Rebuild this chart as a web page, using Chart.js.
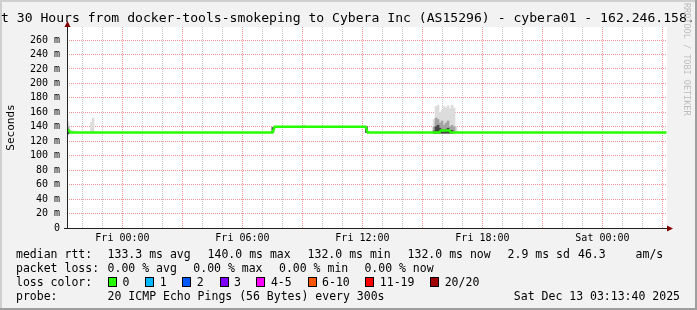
<!DOCTYPE html>
<html>
<head>
<meta charset="utf-8">
<title>Smokeping - cybera01</title>
<script src="https://cdn.jsdelivr.net/npm/chart.js@4.4.1/dist/chart.umd.min.js"></script>
<style>
  html, body { margin: 0; padding: 0; background: #f2f2f2; }
  #wrap { width: 697px; height: 310px; }
</style>
</head>
<body>
<div id="wrap"><canvas id="smokeChart" width="697" height="310"></canvas></div>
<script>
// time axis is in hours, 0 = Fri 00:00
var startHour = -2.7722;   // Thu 21:13:40
var endHour = 27.2278;     // Sat 03:13:40
var labelHours = [0, 6, 12, 18, 24];
var xLabels = ['Fri 00:00', 'Fri 06:00', 'Fri 12:00', 'Fri 18:00', 'Sat 00:00'];

// median rtt (ms)
var medianHours = [-2.77, -2.68, -2.6, 7.5, 7.62, 12.15, 12.27, 15.85, 15.92, 16.35, 16.42, 27.2];
var medianMs    = [135, 135, 132, 132, 140, 140, 132, 132, 135, 135, 132, 132];

// smoke (spread of the 20 pings), light / mid / dark shades
var lightHours = [-2.72, -2.62, -2.52, -2.42, -2.32, -1.55, -1.47, 9.1, 13.5,
                  15.58, 15.68, 15.78, 15.88, 15.98, 16.08, 16.18, 16.28, 16.38, 16.48, 16.58, 16.68];
var lightLow   = [132, 132, 132, 132, 132, 132, 132, 140, 132,
                  132, 132, 132, 132, 132, 132, 132, 132, 132, 132, 132, 132];
var lightHigh  = [147, 136, 135, 134, 134, 146, 152, 142.5, 133.5,
                  150, 168, 170, 160, 163, 168, 166, 169, 165, 170, 166, 140];

var midHours = [-2.72, 15.58, 15.68, 15.78, 15.88, 15.98, 16.08, 16.18, 16.28, 16.38, 16.48, 16.58];
var midLow   = [131, 132, 132, 132, 132, 132, 132, 132, 132, 132, 132, 132];
var midHigh  = [140, 140, 152, 150, 145, 148, 142, 145, 148, 140, 142, 140];

var darkHours = [-2.72, 7.52, 12.2, 15.58, 15.68, 15.78, 15.88, 15.98, 16.08, 16.18, 16.28, 16.38, 16.48];
var darkLow   = [130, 132, 132, 131, 131, 131, 131, 131, 131, 131, 131, 131, 131];
var darkHigh  = [136, 139, 140, 134, 140, 142, 138, 136, 135, 136, 138, 135, 135];

// legend texts
var rttStats = ['133.3 ms avg', '140.0 ms max', '132.0 ms min', '132.0 ms now', '2.9 ms sd'];
var amsValue = '46.3';
var lossStats = ['0.00 % avg', '0.00 % max', '0.00 % min', '0.00 % now'];
var lossLabels = ['0', '1', '2', '3', '4-5', '6-10', '11-19', '20/20'];
var lossColors = ['#26ff00', '#00b8ff', '#0059ff', '#7e00ff', '#ff00ff', '#ff5500', '#ff0000', '#a00000'];
var probeText = '20 ICMP Echo Pings (56 Bytes) every 300s';
var stampText = 'Sat Dec 13 03:13:40 2025';
var titleText = 't 30 Hours from docker-tools-smokeping to Cybera Inc (AS15296) - cybera01 - 162.246.158.';

var MONO = "'DejaVu Sans Mono', monospace";
var GRID = 'rgba(143,143,143,0.55)';
var MGRID = 'rgba(222,79,79,0.6)';

function toPoints(xs, ys) {
    return xs.map(function (x, i) { return { x: x, y: ys[i] }; });
}
function toBars(xs, lo, hi) {
    return xs.map(function (x, i) { return { x: x, y: [lo[i], hi[i]] }; });
}

// background, frame, arrows and all the rrdtool style texts
var rrdDecor = {
    id: 'rrdDecor',
    beforeDraw: function (chart) {
        var ctx = chart.ctx, a = chart.chartArea;
        ctx.save();
        ctx.fillStyle = '#f2f2f2';
        ctx.fillRect(0, 0, chart.width, chart.height);
        ctx.fillStyle = '#cfcfcf';
        ctx.fillRect(0, 0, chart.width, 2);
        ctx.fillRect(0, 0, 2, chart.height);
        ctx.fillStyle = '#9e9e9e';
        ctx.fillRect(0, chart.height - 2, chart.width, 2);
        ctx.fillRect(chart.width - 2, 0, 2, chart.height);
        ctx.fillStyle = '#ffffff';
        ctx.fillRect(a.left, a.top, a.right - a.left, a.bottom - a.top);
        ctx.restore();
    },
    afterDraw: function (chart) {
        var ctx = chart.ctx, a = chart.chartArea;
        var ax = Math.round(a.left) + 0.5, ay = Math.round(a.bottom) + 0.5;
        ctx.save();
        // axes
        ctx.strokeStyle = '#212121';
        ctx.lineWidth = 1;
        ctx.beginPath();
        ctx.moveTo(ax, ay); ctx.lineTo(ax, 26);
        ctx.moveTo(64, ay); ctx.lineTo(668, ay);
        ctx.stroke();
        ctx.fillStyle = '#800000';
        ctx.beginPath();
        ctx.moveTo(ax - 3, 27); ctx.lineTo(ax, 21); ctx.lineTo(ax + 3, 27); ctx.closePath();
        ctx.fill();
        ctx.beginPath();
        ctx.moveTo(667, ay - 3); ctx.lineTo(673, ay); ctx.lineTo(667, ay + 3); ctx.closePath();
        ctx.fill();

        // title
        ctx.fillStyle = '#000';
        ctx.textBaseline = 'alphabetic';
        ctx.textAlign = 'left';
        ctx.font = '13.1px ' + MONO;
        ctx.fillText(titleText, 1, 22);

        // unit label
        ctx.save();
        ctx.translate(14, (a.top + a.bottom) / 2);
        ctx.rotate(-Math.PI / 2);
        ctx.textAlign = 'center';
        ctx.font = '11px ' + MONO;
        ctx.fillText('Seconds', 0, 0);
        ctx.restore();

        // watermark
        ctx.save();
        ctx.translate(684, 3);
        ctx.rotate(Math.PI / 2);
        ctx.textAlign = 'left';
        ctx.fillStyle = '#bdbdbd';
        ctx.font = '8.5px ' + MONO;
        ctx.fillText('RRDTOOL / TOBI OETIKER', 0, 0);
        ctx.restore();

        // legend block
        ctx.font = '11.5px ' + MONO;
        ctx.fillStyle = '#000';
        var cols = [107.6, 207.6, 307.6, 407.6, 507.6];
        ctx.fillText('median rtt:', 16, 258);
        rttStats.forEach(function (s, i) { ctx.fillText(s, cols[i], 258); });
        ctx.fillText(amsValue, 578, 258);
        ctx.fillText('am/s', 635.6, 258);

        var lossCols = [107.6, 193.3, 279, 364.4];
        ctx.fillText('packet loss:', 16, 272);
        lossStats.forEach(function (s, i) { ctx.fillText(s, lossCols[i], 272); });

        var boxX = [108, 145.3, 182.2, 219.6, 256.4, 307.6, 365.3, 430.2];
        ctx.fillText('loss color:', 16, 286);
        lossLabels.forEach(function (s, i) {
            ctx.fillStyle = lossColors[i];
            ctx.fillRect(Math.round(boxX[i]), 277, 9, 10);
            ctx.strokeStyle = '#000';
            ctx.strokeRect(Math.round(boxX[i]) + 0.5, 277.5, 8, 9);
            ctx.fillStyle = '#000';
            ctx.fillText(s, boxX[i] + 14.5, 286);
        });

        ctx.fillText('probe:', 16, 300);
        ctx.fillText(probeText, 107.6, 300);
        ctx.textAlign = 'right';
        ctx.fillText(stampText, 680, 300);
        ctx.restore();
    }
};

var ctx = document.getElementById('smokeChart').getContext('2d');
var smokeChart = new Chart(ctx, {
    data: {
        datasets: [
            {
                type: 'line',
                label: 'median rtt',
                data: toPoints(medianHours, medianMs),
                borderColor: lossColors[0],
                borderWidth: 2.5,
                pointRadius: 0,
                tension: 0,
                order: 0
            },
            {
                type: 'bar',
                label: 'smoke dark',
                data: toBars(darkHours, darkLow, darkHigh),
                backgroundColor: '#454545',
                barThickness: 2,
                grouped: false,
                order: 1
            },
            {
                type: 'bar',
                label: 'smoke mid',
                data: toBars(midHours, midLow, midHigh),
                backgroundColor: '#a3a3a3',
                barThickness: 2,
                grouped: false,
                order: 2
            },
            {
                type: 'bar',
                label: 'smoke light',
                data: toBars(lightHours, lightLow, lightHigh),
                backgroundColor: '#dcdcdc',
                barThickness: 2,
                grouped: false,
                order: 3
            }
        ]
    },
    options: {
        responsive: false,
        animation: false,
        layout: { padding: { left: 0, right: 30, top: 27, bottom: 62 } },
        plugins: {
            legend: { display: false },
            tooltip: { enabled: false },
            title: { display: false }
        },
        scales: {
            x: {
                type: 'linear',
                offset: false,
                min: startHour,
                max: endHour,
                afterBuildTicks: function (scale) {
                    var t = [];
                    for (var h = -2; h <= 27; h++) t.push({ value: h });
                    scale.ticks = t;
                },
                afterFit: function (scale) { scale.height = 20; },
                ticks: {
                    autoSkip: false,
                    maxRotation: 0,
                    padding: 4,
                    color: '#000',
                    font: { family: MONO, size: 10 },
                    callback: function (v) {
                        var i = labelHours.indexOf(v);
                        return i >= 0 ? xLabels[i] : '';
                    }
                },
                grid: {
                    offset: false,
                    drawTicks: false,
                    lineWidth: 1,
                    color: function (c) { return c.tick && c.tick.value % 3 === 0 ? MGRID : GRID; }
                },
                border: { display: false, dash: [1, 1] }
            },
            y: {
                type: 'linear',
                min: 0,
                max: 278,
                afterBuildTicks: function (scale) {
                    var t = [];
                    for (var v = 0; v <= 270; v += 10) t.push({ value: v });
                    scale.ticks = t;
                },
                afterFit: function (scale) { scale.width = 67; },
                ticks: {
                    padding: 7,
                    color: '#000',
                    font: { family: MONO, size: 10 },
                    callback: function (v) {
                        if (v % 20 !== 0) return '';
                        return v === 0 ? '0' : v + ' m';
                    }
                },
                grid: {
                    drawTicks: false,
                    lineWidth: 1,
                    color: function (c) { return c.tick && c.tick.value % 20 === 0 ? MGRID : GRID; }
                },
                border: { display: false, dash: [1, 1] }
            }
        }
    },
    plugins: [rrdDecor]
});
</script>
</body>
</html>
